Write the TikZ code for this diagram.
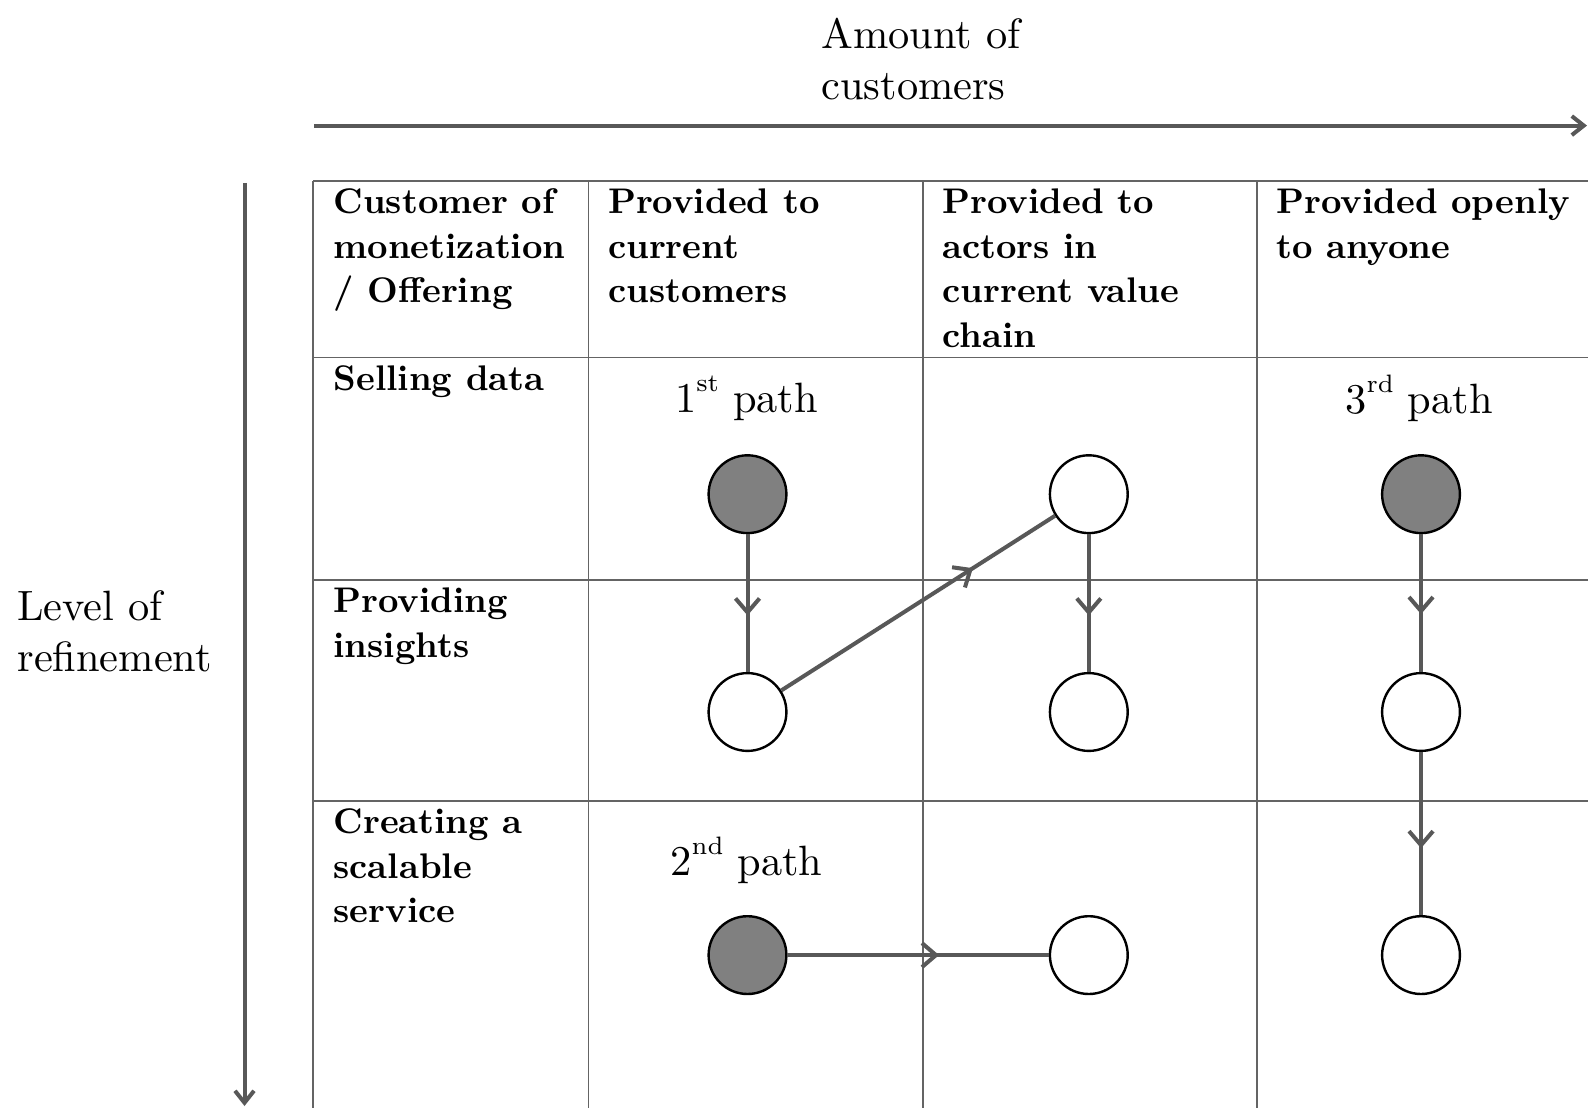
\documentclass[tikz,border=0pt]{standalone}
\usepackage{fontspec}
% one design size of Latin Modern, scaled to every size used
\setmainfont{lmroman10-regular}[Extension=.otf,BoldFont=lmroman10-bold]
\newfontfamily\smallrm{lmroman7-regular}[Extension=.otf]
\usetikzlibrary{arrows.meta,decorations.markings}
\definecolor{linkgray}{RGB}{88,88,88}
\definecolor{gridgray}{RGB}{100,100,100}
\definecolor{nodegray}{RGB}{128,128,128}
% raised ordinal suffix (st, nd, rd)
\newcommand\ordsuffix[1]{\raisebox{10.5pt}{\smallrm\fontsize{12.6}{14}\selectfont #1}}
\begin{document}
\begin{tikzpicture}[x=0.5pt,y=-0.5pt,
  gridline/.style={draw=gridgray,line width=0.9pt},
  axisarrow/.style={draw=linkgray,line width=2pt,-{Straight Barb[length=6pt,width=9.5pt]}},
  cellfont/.style={font=\fontsize{17.8}{22.25}\selectfont\bfseries},
  celltext/.style={cellfont,anchor=north west,inner sep=0pt,align=left},
  bigtext/.style={font=\fontsize{21.2}{25.8}\selectfont},
  pathlabel/.style={bigtext,anchor=base,inner sep=0pt},
  stagefull/.style={circle,draw=black,line width=1.2pt,fill=nodegray,minimum size=38.9pt,inner sep=0pt},
  stageempty/.style={circle,draw=black,line width=1.2pt,fill=white,minimum size=38.9pt,inner sep=0pt},
  link/.style={draw=linkgray,line width=2pt,postaction={decorate},
    decoration={markings,mark=at position #1 with {\arrow{Straight Barb[length=7pt,width=12pt]}}}},
]
\useasboundingbox (0,0) rectangle (1588,1107);
\clip (0,0) rectangle (1588,1107);

% ---- grid of the table ----
\foreach \y in {181.3,357.5,580.3,801.1}
  \draw[gridline] (313,\y) -- (1620,\y);
\foreach \x in {313,588.4,922.6,1256.9}
  \draw[gridline] (\x,181.3) -- (\x,1130);

% ---- axes ----
\coordinate (xstart) at (314,125.6);
\coordinate (xend) at (1587,125.6);
\coordinate (ystart) at (244.5,183);
\coordinate (yend) at (244.5,1106);
\draw[axisarrow] (xstart) -- (xend);
\draw[axisarrow] (ystart) -- (yend);

\node[bigtext,anchor=north west,inner sep=0pt,align=left] (xlabel) at (821,17.3)
  {Amount of\\customers};
\node[bigtext,anchor=north west,inner sep=0pt,align=left] (ylabel) at (17,589.9)
  {Level of\\refinement};

% ---- table texts ----
\node[celltext] (h0) at (333.2,188.6) {Customer of\\monetization\\/ Offering};
\node[celltext] (h1) at (607.7,188.6) {Provided to\\current\\customers};
\node[celltext] (h2) at (942,188.6) {Provided to\\actors in\\current value\\chain};
\node[celltext] (h3) at (1276,188.6) {Provided openly\\to anyone};
\node[celltext] (r1) at (333.2,364.8) {Selling data};
\node[celltext] (r2) at (333.2,587.6) {Providing\\insights};
\node[celltext] (r3) at (333.2,808.4) {Creating a\\scalable\\service};

% ---- path labels ----
\node[pathlabel] (p1) at (746.5,412.7) {1\ordsuffix{st} path};
\node[pathlabel] (p3) at (1419,413.5) {3\ordsuffix{rd} path};
\node[pathlabel] (p2) at (746.5,875) {2\ordsuffix{nd} path};

% ---- stages ----
\node[stagefull]  (a) at (747.5,494.2) {};
\node[stageempty] (b) at (747.5,712) {};
\node[stageempty] (c) at (1088.8,494.2) {};
\node[stageempty] (d) at (1088.8,712) {};
\node[stagefull]  (e) at (1421,494.2) {};
\node[stageempty] (f) at (1421,712) {};
\node[stageempty] (g) at (1421,955.1) {};
\node[stagefull]  (h) at (747.5,955.1) {};
\node[stageempty] (i) at (1088.8,955.1) {};

% ---- transitions ----
\draw[link=0.59] (a) -- (b);
\draw[link=0.70] (b) -- (c);
\draw[link=0.59] (c) -- (d);
\draw[link=0.58] (e) -- (f);
\draw[link=0.59] (f) -- (g);
\draw[link=0.58] (h) -- (i);
\end{tikzpicture}
\end{document}
